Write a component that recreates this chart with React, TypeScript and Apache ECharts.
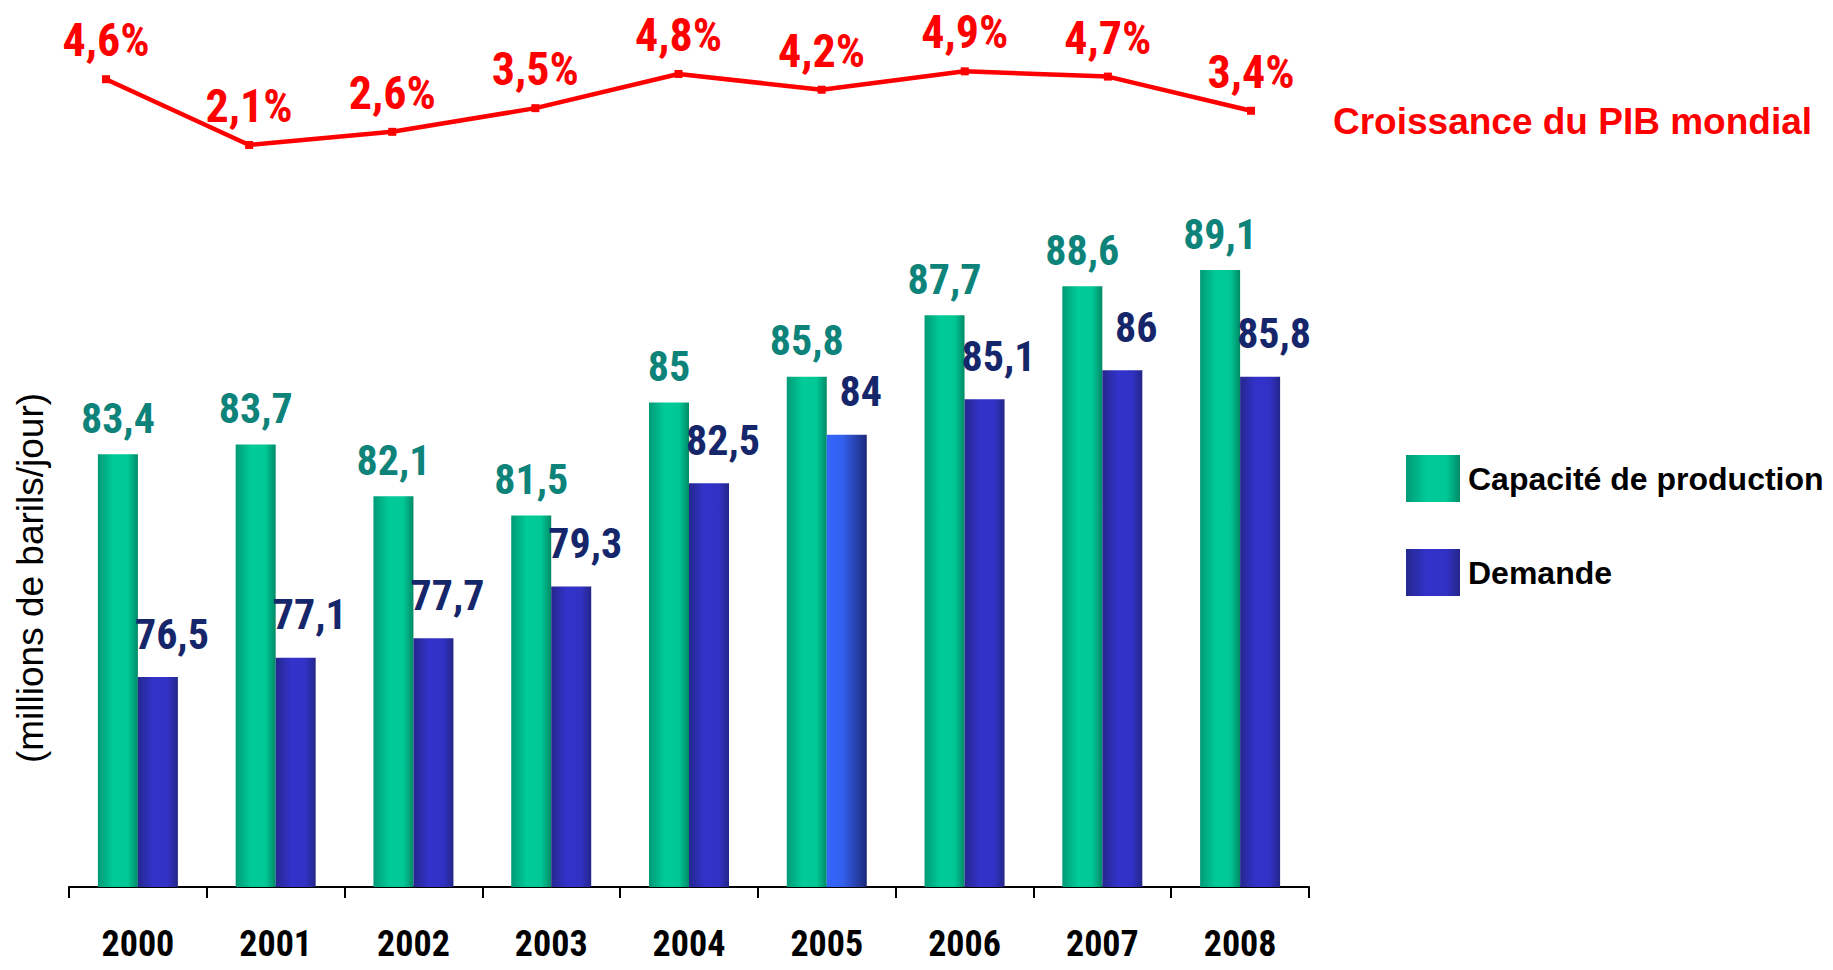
import React, { useEffect, useRef } from "react";
import * as echarts from "echarts";

const years = ["2000", "2001", "2002", "2003", "2004", "2005", "2006", "2007", "2008"];
const capacite = [83.4, 83.7, 82.1, 81.5, 85, 85.8, 87.7, 88.6, 89.1];
const demande = [76.5, 77.1, 77.7, 79.3, 82.5, 84, 85.1, 86, 85.8];
const pib = [4.6, 2.1, 2.6, 3.5, 4.8, 4.2, 4.9, 4.7, 3.4];
const seriesNames = ["Capacité de production", "Demande", "Croissance du PIB mondial"];
const yAxisName = "(millions de barils/jour)";

const NARROW = "'Liberation Sans Narrow', 'Arial Narrow', 'Roboto Condensed', sans-serif";
const ARIAL = "'Liberation Sans', Arial, Helvetica, sans-serif";

const fmt = (v: number) => String(v).replace(".", ",");

const hGrad = (stops: [number, string][]) =>
  new echarts.graphic.LinearGradient(0, 0, 1, 0, stops.map(([offset, color]) => ({ offset, color })));

const greenGrad = () =>
  hGrad([
    [0, "#009a76"],
    [0.4, "#00cc99"],
    [0.75, "#00c795"],
    [1, "#008a66"],
  ]);
const blueGrad = () =>
  hGrad([
    [0, "#25278e"],
    [0.4, "#3333cc"],
    [0.75, "#3131c4"],
    [1, "#242688"],
  ]);
const lightBlueGrad = () =>
  hGrad([
    [0, "#3366ff"],
    [0.4, "#3360ee"],
    [1, "#1c2a78"],
  ]);

export default function App() {
  const ref = useRef<HTMLDivElement>(null);

  useEffect(() => {
    if (!ref.current) return;
    const chart = echarts.init(ref.current, null, { renderer: "svg" });

    const option: any = {
      animation: false,
      backgroundColor: "#ffffff",
      grid: [
        { left: 69, right: 524, top: 241, bottom: 83, containLabel: false },
        { left: 106, right: 582, top: 42.4, bottom: 769.8, containLabel: false },
      ],
      xAxis: [
        {
          type: "category",
          gridIndex: 0,
          data: years,
          boundaryGap: true,
          axisLine: { show: true, lineStyle: { color: "#000", width: 2 } },
          axisTick: { show: true, length: 11, lineStyle: { color: "#000", width: 2 } },
          axisLabel: {
            margin: 39,
            color: "#000",
            fontFamily: NARROW,
            fontWeight: "bold",
            fontSize: 36,
          },
        },
        {
          type: "category",
          gridIndex: 1,
          data: years,
          boundaryGap: false,
          show: false,
        },
      ],
      yAxis: [
        {
          type: "value",
          gridIndex: 0,
          min: 70,
          max: 90,
          show: false,
          splitLine: { show: false },
        },
        {
          type: "value",
          gridIndex: 1,
          min: 0,
          max: 6,
          show: false,
          splitLine: { show: false },
        },
      ],
      legend: {
        data: [seriesNames[0], seriesNames[1]],
        orient: "vertical",
        left: 1401,
        top: 450,
        itemWidth: 54,
        itemHeight: 47,
        itemGap: 47,
        icon: "rect",
        textStyle: {
          color: "#000",
          fontFamily: ARIAL,
          fontWeight: "bold",
          fontSize: 32,
          padding: [0, 0, 0, 3],
        },
      },
      series: [
        {
          name: seriesNames[0],
          type: "bar",
          xAxisIndex: 0,
          yAxisIndex: 0,
          barWidth: 40,
          barGap: "0%",
          itemStyle: { color: greenGrad() },
          label: {
            show: true,
            position: "top",
            distance: 15,
            color: "#0d837a",
            fontFamily: NARROW,
            fontWeight: "bold",
            fontSize: 42,
            formatter: (p: any) => fmt(p.value),
          },
          data: capacite,
        },
        {
          name: seriesNames[1],
          type: "bar",
          xAxisIndex: 0,
          yAxisIndex: 0,
          barWidth: 40,
          barGap: "0%",
          itemStyle: { color: blueGrad() },
          label: {
            show: true,
            position: "top",
            distance: 22,
            offset: [14, 0],
            color: "#15266a",
            fontFamily: NARROW,
            fontWeight: "bold",
            fontSize: 42,
            formatter: (p: any) => fmt(p.value),
          },
          data: demande.map((v, i) =>
            i === 5 ? { value: v, itemStyle: { color: lightBlueGrad() } } : v
          ),
        },
        {
          name: seriesNames[2],
          type: "line",
          xAxisIndex: 1,
          yAxisIndex: 1,
          data: pib,
          lineStyle: { color: "#ff0000", width: 4.5 },
          itemStyle: { color: "#ff0000" },
          symbol: "rect",
          symbolSize: 8,
          label: {
            show: true,
            position: "top",
            distance: 12,
            color: "#ff0000",
            fontFamily: NARROW,
            fontWeight: "bold",
            fontSize: 46,
            formatter: (p: any) => fmt(p.value) + "%",
          },
        },
      ],
      graphic: [
        {
          type: "text",
          x: 30,
          y: 578,
          rotation: Math.PI / 2,
          style: {
            text: yAxisName,
            font: `37px ${ARIAL}`,
            fill: "#000",
            textAlign: "center",
            textVerticalAlign: "middle",
          },
        },
        {
          type: "text",
          x: 1333,
          y: 121,
          style: {
            text: seriesNames[2],
            font: `bold 37px ${ARIAL}`,
            fill: "#ff0000",
            textAlign: "left",
            textVerticalAlign: "middle",
          },
        },
      ],
    };

    chart.setOption(option);
    return () => chart.dispose();
  }, []);

  return (
    <div
      ref={ref}
      style={{ position: "fixed", left: 0, top: 0, width: 1833, height: 970, background: "#fff" }}
    />
  );
}
